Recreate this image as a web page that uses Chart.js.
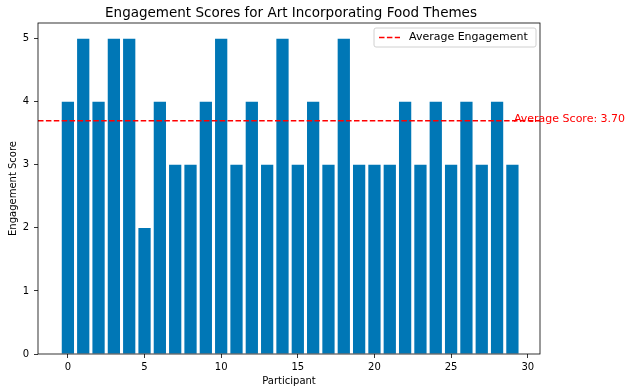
<!DOCTYPE html>
<html lang="en">
<head>
    <meta charset="UTF-8">
    <title>Engagement Scores for Art Incorporating Food Themes</title>
    <script src="https://cdn.jsdelivr.net/npm/chart.js"></script>
    <style>
        body { margin: 0; background: #ffffff; }
        #wrap { width: 633px; height: 392px; position: relative; }
    </style>
</head>
<body>
    <div id="wrap"><canvas id="chart" width="633" height="392"></canvas></div>
    <script>
        // Participants 0..29 and their engagement scores
        const participants = [0, 1, 2, 3, 4, 5, 6, 7, 8, 9, 10, 11, 12, 13, 14, 15, 16, 17, 18, 19, 20, 21, 22, 23, 24, 25, 26, 27, 28, 29];
        const scores = [4, 5, 4, 5, 5, 2, 4, 3, 3, 4, 5, 3, 4, 3, 5, 3, 4, 3, 5, 3, 3, 3, 4, 3, 4, 3, 4, 3, 4, 3];
        const xTicks = [0, 5, 10, 15, 20, 25, 30];
        const yTicks = [0, 1, 2, 3, 4, 5];

        const avg = scores.reduce((a, b) => a + b, 0) / scores.length;
        const font = "'DejaVu Sans', sans-serif";

        // title, box, average line, its label and the legend
        const extras = {
            id: 'extras',
            afterDatasetsDraw(chart) {
                const { ctx, chartArea: a, scales } = chart;
                const yAvg = scales.y.getPixelForValue(avg);
                ctx.save();
                ctx.strokeStyle = '#ff0000';
                ctx.lineWidth = 1.5;
                ctx.setLineDash([5.5, 2.4]);
                ctx.beginPath();
                ctx.moveTo(a.left, yAvg);
                ctx.lineTo(a.right, yAvg);
                ctx.stroke();
                ctx.setLineDash([]);

                ctx.strokeStyle = '#000000';
                ctx.lineWidth = 0.8;
                ctx.strokeRect(a.left, a.top, a.right - a.left, a.bottom - a.top);

                ctx.fillStyle = '#ff0000';
                ctx.font = '11px ' + font;
                ctx.textAlign = 'left';
                ctx.textBaseline = 'alphabetic';
                ctx.fillText('Average Score: ' + avg.toFixed(2), scales.x.getPixelForValue(29.1), yAvg + 1);

                // legend
                const lx = a.right - 166, ly = a.top + 5, lw = 162, lh = 19;
                ctx.fillStyle = 'rgba(255,255,255,0.8)';
                ctx.strokeStyle = '#d0d0d0';
                ctx.lineWidth = 1;
                ctx.beginPath();
                ctx.roundRect(lx, ly, lw, lh, 2);
                ctx.fill();
                ctx.stroke();
                ctx.strokeStyle = '#ff0000';
                ctx.lineWidth = 1.5;
                ctx.setLineDash([5.5, 2.4]);
                ctx.beginPath();
                ctx.moveTo(lx + 5, ly + lh / 2);
                ctx.lineTo(lx + 26, ly + lh / 2);
                ctx.stroke();
                ctx.setLineDash([]);
                ctx.fillStyle = '#000000';
                ctx.font = '11px ' + font;
                ctx.textBaseline = 'middle';
                ctx.fillText('Average Engagement', lx + 35, ly + lh / 2);

                ctx.font = '13.5px ' + font;
                ctx.textAlign = 'center';
                ctx.textBaseline = 'middle';
                ctx.fillText('Engagement Scores for Art Incorporating Food Themes', (a.left + a.right) / 2 + 2, 13);
                ctx.restore();
            }
        };

        new Chart(document.getElementById('chart'), {
            type: 'bar',
            data: {
                datasets: [{
                    data: participants.map((p, i) => ({ x: p, y: scores[i] })),
                    backgroundColor: '#0077b6',
                    borderWidth: 0,
                    barPercentage: 0.8,
                    categoryPercentage: 1.0
                }]
            },
            options: {
                responsive: false,
                animation: false,
                layout: { padding: { top: 23, right: 93, left: 0, bottom: 0 } },
                plugins: {
                    legend: { display: false },
                    tooltip: { enabled: false }
                },
                scales: {
                    x: {
                        type: 'linear',
                        offset: false,
                        min: -1.95,
                        max: 30.8,
                        afterFit(s) { s.height = 38; },
                        afterBuildTicks(s) { s.ticks = xTicks.map(v => ({ value: v })); },
                        grid: { display: true, offset: false, drawOnChartArea: false, color: '#000', tickLength: 4, tickWidth: 0.8 },
                        border: { display: false },
                        ticks: { color: '#000', font: { family: font, size: 10 }, padding: 3, maxRotation: 0, autoSkip: false },
                        title: { display: true, text: 'Participant', color: '#000', font: { family: font, size: 10 }, padding: { top: 1, bottom: 5 } }
                    },
                    y: {
                        min: 0,
                        max: 5.25,
                        afterFit(s) { s.width = 38; },
                        afterBuildTicks(s) { s.ticks = yTicks.map(v => ({ value: v })); },
                        grid: { display: true, drawOnChartArea: false, color: '#000', tickLength: 4, tickWidth: 0.8 },
                        border: { display: false },
                        ticks: { color: '#000', font: { family: font, size: 10 }, padding: 5 },
                        title: { display: true, text: 'Engagement Score', color: '#000', font: { family: font, size: 10 }, padding: { top: 7, bottom: 0 } }
                    }
                }
            },
            plugins: [extras]
        });
    </script>
</body>
</html>
